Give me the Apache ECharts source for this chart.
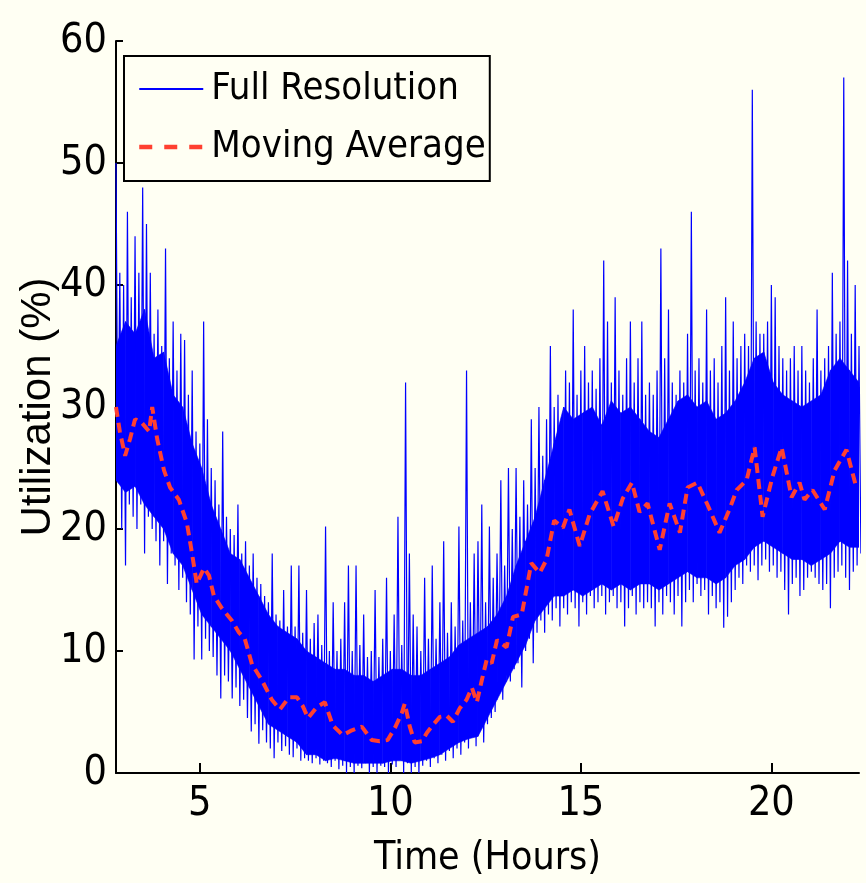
<!DOCTYPE html>
<html><head><meta charset="utf-8">
<script src="https://cdn.jsdelivr.net/npm/echarts@6/dist/echarts.min.js"></script>
<style>html,body{margin:0;padding:0;background:#fffff3;}#c{width:866px;height:883px;}</style>
</head><body><div id="c"></div>
<script>
// ---- data ----
const startHour = 2.8;      // first bin (hours)
const binHours = 0.1;       // bin width (hours)
// upper extreme of the full-resolution trace in each bin
const peaks = [
 50,41,40,46,39,44,41,48,45,41,
 36,38,35,43,34,37,33,36,35.5,31,
 33,28,27,37,29,25,24,22,28,21,
 20,19.5,22,18,19,17,18,16,15.5,14.5,
 14,18,13,12.5,15,12,17,12,17,11.5,
 15,11,12.3,13,10.5,20.2,10,14,10,11,
 14,17,10,17,10.5,13,9.5,10,15,9.5,
 11,16,10,13,21,10.5,32,18,13,12,
 10,16,11,17,11,14,19,11.5,14,12,
 20.2,12.5,33,14,18,19,22,14,20.2,16,
 18,24,17,25,20,25,21,24,22,29,
 25,30,26,29,35,30,31,29,33,32,
 38,31,33,35,32,33,31.5,34,42,37,
 32,39,33,31,34,37,32,34,37,31,
 32,31,33,43,34,38,32,31,33,32,
 36,46,33,34,32,38,33,34,32,35,
 39,33,37,34,35,36,35,56,37,36,
 36,37,40,39,35,34,33,34,35,33,
 35,33,32,34,38,33,34,35,41,36,
 37,57,42,36,40,35
];
// lower extreme of the full-resolution trace in each bin
const dips = [
 25,20,17,22,21,20,22,18,21,20,
 19,17,19,15.5,18,17,15,16,14,13,
 9.3,12,9.3,11,10,9.5,8,6.1,8,7.5,
 6.1,7,5.5,6,4.5,3.4,4,2.4,3.5,2.5,
 2,1.2,2.5,1.8,2.2,1.5,1.3,2,1,1.2,
 1,0.8,1.2,0.7,1,0.8,0.5,1,0.3,0.6,
 0,0.5,0,0.6,0.4,0.8,0,0.5,0,0.6,
 0.5,0,0.7,0.5,1.2,0,0.8,0,0.5,0,
 0.6,1,0.5,1.2,0.8,1.5,1,1.8,1.2,2,
 1.5,2.5,2,3,2.2,3.5,2.5,4,4.5,5,
 6.8,6,8,7.5,8.5,9,7,10,11,9,
 11.5,12.5,11.5,13,12.5,13.5,12,13.5,13,14,
 13.5,12,14,13,14.5,13.5,14,14.5,13,14,
 14.5,13.5,14,12,13.5,14.5,13,14,13.5,14,
 13.5,12,14,13,14.5,14,13,14.5,12,14,
 15,14,15.5,14.5,15,13,14.5,13.5,14,11.9,
 12.8,14,15,16,15.5,17,16.5,17,15.8,17,
 17.5,16.5,17,16,16.5,15,13,15.5,16,14.5,
 15,16,16.5,16,15.5,15,15.5,13.5,16,16.5,
 17,16,15,16.5,17,18
];
// dense core of the trace (solid blue band), sampled every 0.25 h from 2.8 h
const coreStart = 2.8, coreStep = 0.25;
const coreTop = [
 35,37,36,38,34,34.5,31,30,27,25,
 22,20,18,17.5,16,14.5,13,12,11.5,11,
 10,9.5,9,8.5,8.5,8,8,7.5,8,8.5,
 8.5,8,8,8.5,9,9.5,10.5,11,11.5,12,
 13,14.5,17,19,21,24,27,30,29,29.5,
 30,28.5,30.5,29.5,30,29,28,27.5,29,30.5,
 31,30,30.5,29,29.5,30.5,32,34,34.5,32,
 31,30.5,30,30.5,31,33,34,33,32
];
const coreBottom = [
 24,23,23.5,22,21,20,18,17,15,13,
 12,11,10,8.5,7,5.5,4,3.5,3,2.5,
 1.5,1.5,1,1.2,1,0.8,0.8,0.8,0.8,1,
 1,0.8,1,1.2,1.5,2,2.5,2.8,3,4.5,
 6,7.5,9,10.5,12.5,13.5,14.5,14.5,15,14.5,
 15,15.5,15,15.5,15,15.5,15.5,15,15.5,16,
 16.5,16,16,15.5,16,17,17.5,18.5,19,18.5,
 18,17.5,17.5,17,17.5,18,19,18.5,18.5
];
// moving average
const avgHours = [2.8,2.9,3.04,3.17,3.3,3.48,3.67,3.75,3.88,4.06,4.22,4.45,4.66,4.79,4.92,5.11,5.24,5.37,5.58,5.84,
  6.03,6.18,6.37,6.63,6.89,7.1,7.34,7.55,7.7,7.84,8.07,8.28,8.49,8.75,8.99,9.25,9.51,9.72,9.93,10.12,
  10.3,10.38,10.51,10.64,10.83,10.96,11.11,11.3,11.48,11.64,11.82,12.0,12.14,12.27,12.4,12.53,12.66,12.8,13.05,13.22,
  13.45,13.58,13.7,13.92,14.1,14.3,14.53,14.7,14.97,15.23,15.57,15.86,16.1,16.34,16.54,16.75,17.07,17.33,17.6,17.8,
  18.06,18.38,18.64,18.9,19.09,19.35,19.56,19.77,20.03,20.27,20.53,20.74,20.87,21.08,21.4,21.66,21.97,22.23];
const avgValues = [30,28,26,27.4,29,28.7,28,30,27.4,24.8,23.4,22.4,20.5,18.1,15.5,16.8,16.2,14.5,13.5,12.5,
  11.5,11,8.9,7.6,6,5.2,6.2,6.2,5.5,4.5,5.4,5.8,3.9,3.1,3.5,3.8,2.7,2.6,2.7,3.7,
  4.9,5.7,3.8,2.5,2.6,3.3,3.9,4.6,4.7,4.2,5.3,6,7,5.8,7.6,9.3,9,10.9,10.3,12.8,
  13,15.2,17.2,16.4,17.5,20.7,20.1,21.6,18.6,21.2,23.1,20.2,22.5,23.8,21.4,22.1,18.3,22.1,19.7,23.4,
  23.8,21.6,19.7,21.6,23.2,24,26.7,21,24.3,26.7,22.6,23.8,22.4,23.2,21.6,24.8,26.5,23.4];
const xTicks = [5,10,15,20];
const yMin = 0, yMax = 60, yStep = 10;
const xMin = 2.8, xMax = 22.3;

// ---- build series data ----
const fullData = [];
for (let i = 0; i < peaks.length; i++) {
  const t = startHour + i * binHours;
  fullData.push([+t.toFixed(3), peaks[i]]);
  fullData.push([+(t + binHours / 2).toFixed(3), dips[i]]);
}
const coreSegs = [];
const nCore = Math.min(coreTop.length, coreBottom.length);
for (let i = 0; i < nCore - 1; i++) {
  const h0 = +(coreStart + i * coreStep).toFixed(3), h1 = +(coreStart + (i + 1) * coreStep).toFixed(3);
  coreSegs.push([h0, coreTop[i], coreBottom[i], h1, coreTop[i + 1], coreBottom[i + 1]]);
}
const avgData = avgHours.map((h, i) => [h, avgValues[i]]);

// ---- font selection (narrow sans if installed) ----
function hasFont(name) {
  const ctx = document.createElement('canvas').getContext('2d');
  const s = 'Full Resolution 0123456789';
  ctx.font = '40px monospace';
  const a = ctx.measureText(s).width;
  ctx.font = "40px '" + name + "', monospace";
  const b = ctx.measureText(s).width;
  return Math.abs(a - b) > 0.5;
}
let NARROW = "'Liberation Sans', Arial, sans-serif", kind = 'plain';
for (const f of ['Liberation Sans Narrow', 'Arial Narrow', 'DejaVu Sans Condensed']) {
  if (hasFont(f)) { NARROW = "'" + f + "', sans-serif"; kind = f.indexOf('DejaVu') >= 0 ? 'dejavu' : 'narrow'; break; }
}
const sizes = {
  narrow: {tick: 45, legend: 46, title: 47},
  dejavu: {tick: 41, legend: 38, title: 39},
  plain:  {tick: 39, legend: 38, title: 38}
}[kind];

const BLUE = '#0000ff', RED = '#ff4030', BG = '#fffff3';

const chart = echarts.init(document.getElementById('c'), null, {renderer: 'canvas'});
chart.setOption({
  animation: false,
  backgroundColor: BG,
  grid: {left: 116, right: 7, top: 41, bottom: 110, containLabel: false},
  legend: {
    orient: 'vertical', left: 124, top: 56,
    itemWidth: 64, itemHeight: 2, itemGap: 20,
    padding: [14, 4, 15, 13],
    borderColor: '#000', borderWidth: 2, borderRadius: 0,
    backgroundColor: BG,
    itemStyle: {opacity: 0},
    textStyle: {fontFamily: NARROW, fontSize: sizes.legend, color: '#000', padding: [0, 0, 0, 3]},
    data: [
      {name: 'Full Resolution', lineStyle: {width: 2}},
      {name: 'Moving Average', lineStyle: {width: 4.5, type: [13, 12]}}
    ]
  },
  xAxis: {
    type: 'value', min: xMin, max: xMax,
    name: 'Time (Hours)', nameLocation: 'middle', nameGap: 66, nameMoveOverlap: false,
    nameTextStyle: {fontFamily: NARROW, fontSize: sizes.title, color: '#000'},
    axisLine: {show: true, onZero: false, lineStyle: {color: '#000', width: 2}},
    axisTick: {show: true, inside: true, length: 10, customValues: xTicks, lineStyle: {color: '#000', width: 2}},
    axisLabel: {customValues: xTicks, fontFamily: NARROW, fontSize: sizes.tick, color: '#000', margin: 11},
    splitLine: {show: false}
  },
  yAxis: {
    type: 'value', min: yMin, max: yMax, interval: yStep,
    name: 'Utilization (%)', nameLocation: 'middle', nameGap: 57, nameMoveOverlap: false,
    nameTextStyle: {fontFamily: "'Liberation Sans', Arial, sans-serif", fontSize: 42, color: '#000'},
    axisLine: {show: true, onZero: false, lineStyle: {color: '#000', width: 2}},
    axisTick: {show: true, inside: true, length: 7, lineStyle: {color: '#000', width: 2}},
    axisLabel: {fontFamily: NARROW, fontSize: sizes.tick, color: '#000', margin: 9},
    splitLine: {show: false}
  },
  series: [
    {name: 'core', type: 'custom', data: coreSegs, silent: true, z: 1, clip: true,
     encode: {x: [0, 3], y: [1, 2, 4, 5]},
     renderItem: function (params, api) {
       const a = api.coord([api.value(0), api.value(1)]);
       const b = api.coord([api.value(3), api.value(4)]);
       const c = api.coord([api.value(3), api.value(5)]);
       const d = api.coord([api.value(0), api.value(2)]);
       return {type: 'polygon', shape: {points: [a, b, c, d]}, style: {fill: BLUE, stroke: BLUE, lineWidth: 0.6}};
     }},
    {name: 'Full Resolution', type: 'line', data: fullData, symbol: 'none',
     lineStyle: {color: BLUE, width: 1.2}, itemStyle: {color: BLUE}, z: 2},
    {name: 'Moving Average', type: 'line', data: avgData, symbol: 'none',
     lineStyle: {color: RED, width: 4, type: [10, 6]}, itemStyle: {color: RED}, z: 3}
  ]
});
</script>
</body></html>
